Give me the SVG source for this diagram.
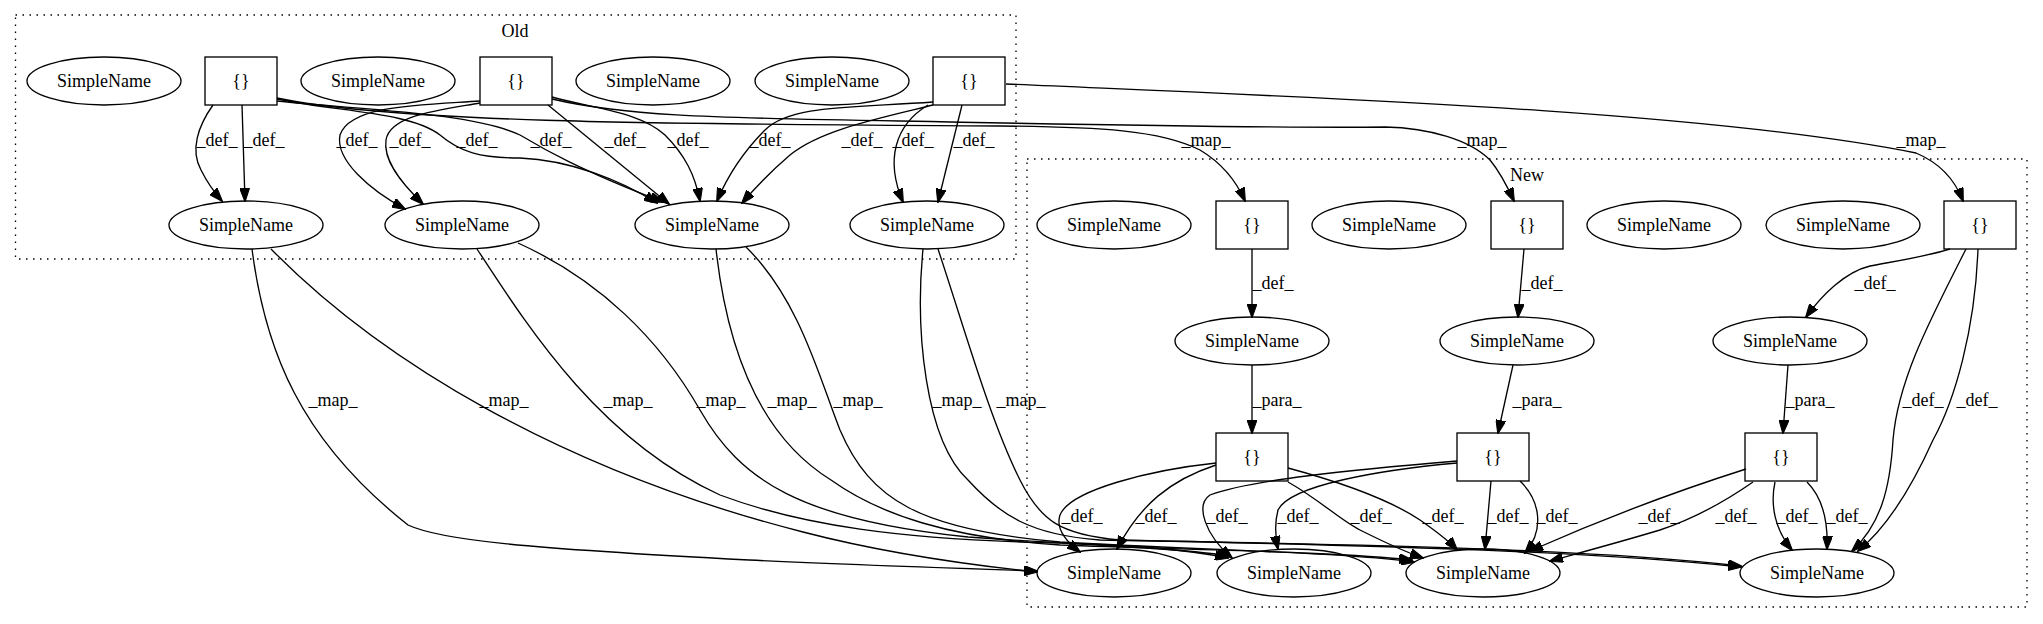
<svg xmlns="http://www.w3.org/2000/svg" width="2043" height="624" viewBox="0 0 2043 624">
<style>
text{font-family:"Liberation Serif","Times New Roman",serif;font-size:18px;fill:#000;text-anchor:middle}
.n ellipse,.n rect{fill:none;stroke:#000;stroke-width:1.33}
.cl{fill:none;stroke:#000;stroke-width:1.33;stroke-dasharray:1.5,5.5}
.e path{fill:none;stroke:#000;stroke-width:1.33;marker-end:url(#ah)}
</style>
<defs>
<marker id="ah" markerUnits="userSpaceOnUse" markerWidth="14" markerHeight="10" viewBox="0 0 14 10" refX="13" refY="5" orient="auto">
<path d="M0,0 L14,5 L0,10 z" fill="#000" stroke="#000" stroke-width="1"/>
</marker>
</defs>
<rect width="2043" height="624" fill="#fff"/>
<g id="cluster_old"><rect class="cl" x="15.5" y="15" width="1000.5" height="244"/><text x="515" y="37">Old</text></g>
<g id="cluster_new"><rect class="cl" x="1027" y="159" width="1000" height="448"/><text x="1527" y="181">New</text></g>

<g id="edges" class="e">
<!-- Old def -->
<path d="M213,105 C198,126 190,150 201,170 C207,182 214,192 222,201"/>
<path d="M242,105 L245,201"/>
<path d="M277,99 C340,112 410,112 440,135 C460,152 480,158 520,158 C570,160 620,180 657,203"/>
<path d="M277,101 C360,110 470,112 520,135 C545,150 580,170 663,202"/>
<path d="M480,101 C420,105 350,105 340,135 C335,160 370,190 405,209"/>
<path d="M480,103 C440,110 390,115 386,140 C383,160 400,182 423,204"/>
<path d="M548,105 L669,204"/>
<path d="M552,97 C600,110 640,112 665,135 C685,155 695,175 700,201"/>
<path d="M933,102 C850,108 790,105 765,130 C745,150 728,175 717,201"/>
<path d="M933,105 C880,118 820,130 790,155 C770,172 755,188 742,203"/>
<path d="M928,105 C895,125 885,160 903,202"/>
<path d="M962,105 L938,202"/>
<!-- map to New boxes -->
<path d="M277,98 C400,124 700,124 1000,126 C1100,127 1160,130 1200,150 C1225,165 1238,185 1245,201"/>
<path d="M552,99 C620,115 700,118 900,121 C1100,125 1300,128 1385,127 C1430,128 1470,140 1490,160 C1500,172 1508,188 1514,201"/>
<path d="M1006,84 C1300,97 1700,110 1916,153 C1940,163 1955,180 1963,201"/>
<!-- New def/para -->
<path d="M1252,249 L1252,317"/>
<path d="M1524,249 L1518,317"/>
<path d="M1950,249 C1920,258 1890,262 1870,266 C1845,272 1822,295 1806,317"/>
<path d="M1252,365 L1252,433"/>
<path d="M1513,365 L1498,433"/>
<path d="M1788,365 L1783,433"/>
<path d="M1966,249 C1930,320 1898,380 1893,440 C1890,490 1880,525 1852,551"/>
<path d="M1978,249 C1975,330 1955,400 1933,440 C1915,480 1890,525 1858,551"/>
<path d="M1216,463 C1150,470 1070,490 1060,515 C1055,530 1068,543 1080,552"/>
<path d="M1216,465 C1170,480 1140,505 1117,549"/>
<path d="M1288,482 C1320,500 1340,520 1360,530 C1380,540 1400,550 1423,558"/>
<path d="M1288,468 C1340,482 1390,500 1420,520 C1440,534 1450,542 1457,550"/>
<path d="M1457,461 C1350,470 1250,480 1210,495 C1195,505 1205,535 1232,558"/>
<path d="M1457,463 C1380,470 1290,485 1278,510 C1274,525 1276,540 1278,549"/>
<path d="M1491,481 L1485,549"/>
<path d="M1520,481 C1540,500 1545,530 1525,553"/>
<path d="M1746,469 C1680,490 1600,520 1530,551"/>
<path d="M1753,482 C1720,505 1690,520 1660,530 C1620,542 1590,550 1550,561"/>
<path d="M1775,482 C1770,505 1775,530 1792,550"/>
<path d="M1807,482 C1825,500 1828,525 1827,549"/>
<!-- map Old -> New names -->
<path d="M252,249 C265,350 300,440 408,525 C440,540 520,548 749,560 C850,565 950,568 1037,571"/>
<path d="M271,249 C380,360 560,470 803,532 C880,552 960,564 1037,572"/>
<path d="M477,249 C530,330 600,440 720,495 C800,525 900,540 1060,543 C1130,545 1190,550 1228,558"/>
<path d="M518,243 C600,280 660,340 700,410 C740,480 800,520 968,537 C1080,545 1180,548 1230,556"/>
<path d="M716,249 C725,330 750,430 831,480 C880,515 950,538 1060,545 C1200,550 1340,552 1412,560"/>
<path d="M746,247 C800,300 820,380 840,430 C870,500 920,530 1060,542 C1200,550 1340,552 1414,562"/>
<path d="M923,249 C915,330 925,440 968,480 C1000,515 1030,535 1100,540 C1400,545 1600,550 1741,566"/>
<path d="M938,249 C965,330 990,420 1020,480 C1040,520 1060,535 1120,540 C1400,546 1600,552 1741,567"/>
</g>

<g id="edge_labels">
<text x="217" y="146">_def_</text><text x="264" y="146">_def_</text>
<text x="357" y="146">_def_</text><text x="410" y="146">_def_</text>
<text x="477" y="146">_def_</text><text x="551" y="146">_def_</text>
<text x="625" y="146">_def_</text><text x="688" y="146">_def_</text>
<text x="770" y="146">_def_</text><text x="862" y="146">_def_</text>
<text x="913" y="146">_def_</text><text x="974" y="146">_def_</text>
<text x="1206" y="146">_map_</text><text x="1482" y="146">_map_</text><text x="1921" y="146">_map_</text>
<text x="1273" y="289">_def_</text><text x="1542" y="289">_def_</text><text x="1875" y="289">_def_</text>
<text x="1277" y="406">_para_</text><text x="1537" y="406">_para_</text><text x="1810" y="406">_para_</text>
<text x="1923" y="406">_def_</text><text x="1977" y="406">_def_</text>
<text x="333" y="406">_map_</text><text x="504" y="406">_map_</text><text x="628" y="406">_map_</text>
<text x="721" y="406">_map_</text><text x="792" y="406">_map_</text><text x="858" y="406">_map_</text>
<text x="957" y="406">_map_</text><text x="1021" y="406">_map_</text>
<text x="1082" y="522">_def_</text><text x="1156" y="522">_def_</text>
<text x="1227" y="522">_def_</text><text x="1298" y="522">_def_</text>
<text x="1371" y="522">_def_</text><text x="1443" y="522">_def_</text>
<text x="1508" y="522">_def_</text><text x="1557" y="522">_def_</text>
<text x="1659" y="522">_def_</text><text x="1736" y="522">_def_</text>
<text x="1797" y="522">_def_</text><text x="1847" y="522">_def_</text>
</g>

<g id="A1" class="n"><ellipse cx="104" cy="81" rx="77" ry="24"/><text x="104" y="87">SimpleName</text></g>
<g id="B1" class="n"><rect x="205" y="57" width="72" height="48"/><text x="241" y="87">{}</text></g>
<g id="A2" class="n"><ellipse cx="378" cy="81" rx="77" ry="24"/><text x="378" y="87">SimpleName</text></g>
<g id="B2" class="n"><rect x="480" y="57" width="72" height="48"/><text x="516" y="87">{}</text></g>
<g id="A3" class="n"><ellipse cx="653" cy="81" rx="77" ry="24"/><text x="653" y="87">SimpleName</text></g>
<g id="A4" class="n"><ellipse cx="832" cy="81" rx="77" ry="24"/><text x="832" y="87">SimpleName</text></g>
<g id="B3" class="n"><rect x="933" y="57" width="72" height="48"/><text x="969" y="87">{}</text></g>
<g id="C1" class="n"><ellipse cx="246" cy="225" rx="77" ry="24"/><text x="246" y="231">SimpleName</text></g>
<g id="C2" class="n"><ellipse cx="462" cy="225" rx="77" ry="24"/><text x="462" y="231">SimpleName</text></g>
<g id="C3" class="n"><ellipse cx="712" cy="225" rx="77" ry="24"/><text x="712" y="231">SimpleName</text></g>
<g id="C4" class="n"><ellipse cx="927" cy="225" rx="77" ry="24"/><text x="927" y="231">SimpleName</text></g>

<g id="D1" class="n"><ellipse cx="1114" cy="225" rx="77" ry="24"/><text x="1114" y="231">SimpleName</text></g>
<g id="E1" class="n"><rect x="1216" y="201" width="72" height="48"/><text x="1252" y="231">{}</text></g>
<g id="D2" class="n"><ellipse cx="1389" cy="225" rx="77" ry="24"/><text x="1389" y="231">SimpleName</text></g>
<g id="E2" class="n"><rect x="1491" y="201" width="72" height="48"/><text x="1527" y="231">{}</text></g>
<g id="D3" class="n"><ellipse cx="1664" cy="225" rx="77" ry="24"/><text x="1664" y="231">SimpleName</text></g>
<g id="D4" class="n"><ellipse cx="1843" cy="225" rx="77" ry="24"/><text x="1843" y="231">SimpleName</text></g>
<g id="E3" class="n"><rect x="1944" y="201" width="72" height="48"/><text x="1980" y="231">{}</text></g>
<g id="F1" class="n"><ellipse cx="1252" cy="341" rx="77" ry="24"/><text x="1252" y="347">SimpleName</text></g>
<g id="F2" class="n"><ellipse cx="1517" cy="341" rx="77" ry="24"/><text x="1517" y="347">SimpleName</text></g>
<g id="F3" class="n"><ellipse cx="1790" cy="341" rx="77" ry="24"/><text x="1790" y="347">SimpleName</text></g>
<g id="G1" class="n"><rect x="1216" y="433" width="72" height="48"/><text x="1252" y="463">{}</text></g>
<g id="G2" class="n"><rect x="1457" y="433" width="72" height="48"/><text x="1493" y="463">{}</text></g>
<g id="G3" class="n"><rect x="1745" y="433" width="72" height="48"/><text x="1781" y="463">{}</text></g>
<g id="H1" class="n"><ellipse cx="1114" cy="573" rx="77" ry="24"/><text x="1114" y="579">SimpleName</text></g>
<g id="H2" class="n"><ellipse cx="1294" cy="573" rx="77" ry="24"/><text x="1294" y="579">SimpleName</text></g>
<g id="H3" class="n"><ellipse cx="1483" cy="573" rx="77" ry="24"/><text x="1483" y="579">SimpleName</text></g>
<g id="H4" class="n"><ellipse cx="1817" cy="573" rx="77" ry="24"/><text x="1817" y="579">SimpleName</text></g>
</svg>
